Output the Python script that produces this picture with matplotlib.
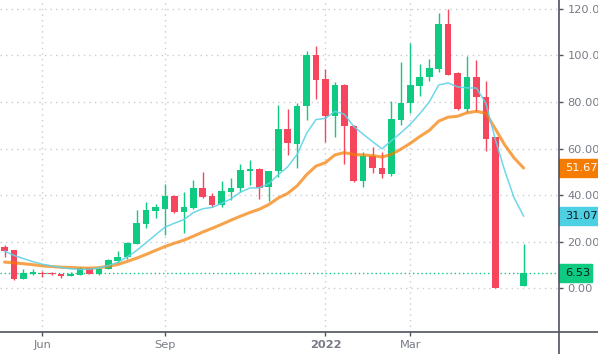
import matplotlib.pyplot as plt
from matplotlib.lines import Line2D
from matplotlib.patches import Rectangle
from matplotlib.transforms import blended_transform_factory
import numpy as np
import pandas as pd

# weekly candles, starting week of 10 May 2021
weeks = pd.date_range('2021-05-10', periods=56, freq='W-MON')

opens = [17.7, 16.5, 4.1, 6.3, 6.7, 6.5, 6.2, 5.4, 5.9, 8.7,
         6.4, 8.5, 11.9, 13.3, 19.1, 27.7, 33.4, 34.3, 39.7, 33.0,
         34.7, 43.2, 39.7, 35.9, 41.5, 42.9, 50.6, 51.2, 43.7, 50.2,
         68.6, 62.2, 78.2, 100.0, 89.7, 74.2, 87.5, 69.9, 46.3, 56.7,
         51.8, 49.2, 72.5, 79.4, 87.1, 90.7, 94.0, 113.4, 92.3, 77.2,
         90.9, 82.3, 64.9, 0.05, 0.05, 1.0]
highs = [18.6, 16.6, 8.3, 8.3, 7.3, 7.0, 6.4, 6.9, 9.2, 8.9,
         9.0, 12.8, 16.2, 19.9, 33.7, 37.3, 36.3, 44.9, 39.9, 41.6,
         46.6, 49.8, 40.9, 45.9, 47.5, 53.5, 55.2, 51.7, 50.5, 78.9,
         77.1, 79.4, 101.7, 104.0, 94.3, 88.5, 87.6, 70.3, 58.4, 60.7,
         58.6, 80.4, 97.4, 105.5, 96.2, 98.3, 118.4, 119.8, 92.9, 99.7,
         97.9, 89.0, 65.0, 0.05, 0.05, 19.1]
lows = [13.6, 3.6, 4.0, 5.6, 5.0, 5.6, 4.6, 5.3, 5.6, 6.0,
        5.7, 8.2, 11.0, 12.7, 19.0, 25.8, 30.4, 23.0, 32.3, 23.9,
        34.3, 38.8, 34.9, 35.1, 38.0, 41.6, 44.5, 38.6, 37.7, 47.8,
        57.4, 51.9, 72.2, 81.1, 62.7, 64.9, 53.5, 45.5, 43.5, 49.5,
        47.2, 48.4, 70.3, 75.4, 82.5, 89.0, 93.0, 91.4, 76.8, 75.6,
        76.3, 59.2, 0.0, 0.0, 0.0, 1.0]
closes = [16.1, 4.0, 6.7, 6.9, 6.0, 6.0, 5.3, 6.3, 8.7, 6.3,
          8.5, 12.2, 13.6, 19.6, 28.2, 33.7, 34.9, 39.7, 33.0, 34.9,
          43.2, 39.4, 35.9, 42.0, 43.2, 50.9, 51.4, 43.3, 50.5, 68.6,
          62.4, 78.5, 100.0, 89.4, 74.2, 87.5, 69.9, 46.3, 56.7, 51.5,
          49.2, 72.9, 79.4, 87.5, 90.9, 94.4, 113.4, 91.8, 77.2, 90.9,
          82.1, 64.3, 0.0, 0.0, 0.0, 6.53]

ma_fast = [16.0, 14.2, 12.8, 11.5, 10.4, 9.6, 9.0, 8.4, 8.2, 8.2,
           8.8, 9.8, 11.2, 13.5, 16.3, 19.6, 23.0, 26.3, 28.0, 29.5,
           32.5, 34.2, 34.8, 36.5, 38.5, 41.3, 43.1, 43.2, 45.0, 48.8,
           52.2, 57.5, 66.5, 72.5, 73.0, 76.0, 74.8, 69.5, 66.2, 63.0,
           59.9, 63.4, 66.8, 70.5, 75.0, 80.0, 87.3, 88.2, 86.5, 86.1,
           86.0, 79.5, 64.0, 50.5, 38.8, 31.07]
ma_slow = [11.3, 11.0, 10.6, 10.2, 9.7, 9.4, 9.1, 9.0, 8.8, 8.7,
           8.9, 9.5, 10.3, 11.6, 13.0, 14.6, 16.3, 18.0, 19.4, 20.7,
           22.4, 24.2, 25.8, 27.5, 29.3, 31.0, 32.6, 34.0, 36.0, 38.8,
           40.8, 44.0, 48.8, 52.5, 54.0, 57.3, 58.3, 57.5, 57.3, 57.0,
           56.4, 57.5, 59.8, 62.3, 65.2, 67.8, 71.8, 73.5, 73.9, 75.4,
           76.0, 75.2, 68.5, 61.6, 56.0, 51.67]

up_col = '#0ecb81'
down_col = '#f6465d'
fast_col = '#5fd3e6'
slow_col = '#f57c00'
text_col = '#787b86'
axis_col = '#50535e'

W, H = 598, 354
fig = plt.figure(figsize=(W / 100, H / 100), dpi=100)
ax = fig.add_axes([0, 22 / H, 559 / W, 332 / H])

idx = np.arange(len(weeks))
o = np.array(opens)
c = np.array(closes)
cols = [up_col if cc > oo else down_col for oo, cc in zip(o, c)]

ax.vlines(idx, lows, highs, colors=cols, lw=1, zorder=3)
bottoms = np.minimum(o, c)
heights = np.maximum(np.abs(c - o), 0.4)
ax.bar(idx, heights, bottom=bottoms, width=0.7, color=cols, zorder=4)

ax.plot(idx, ma_slow, color=slow_col, lw=2.2, alpha=0.7, zorder=5,
        solid_capstyle='round')
ax.plot(idx, ma_fast, color=fast_col, lw=1.1, alpha=0.9, zorder=5)

last = closes[-1]
ax.axhline(last, color=up_col, lw=1, linestyle=(0, (1, 2)), zorder=2)

ax.set_xlim(-0.48, 58.75)
ax.set_ylim(-18.7, 123.8)

# ticks at first weekly bar of the month
tick_names = ['Jun', 'Sep', '2022', 'Mar']
tick_months = [(2021, 6), (2021, 9), (2022, 1), (2022, 3)]
tick_pos = [int(np.argmax((weeks.year == y) & (weeks.month == m))) for y, m in tick_months]
ax.set_xticks(tick_pos)
ax.set_xticklabels(tick_names)
for lab in ax.get_xticklabels():
    if lab.get_text() == '2022':
        lab.set_fontweight('bold')
        lab.set_color('#50535e')

yt = np.arange(0, 121, 20)
ax.set_yticks(yt)
ax.set_yticklabels(['%.2f' % v for v in yt])
ax.yaxis.tick_right()
ax.tick_params(axis='y', length=3, width=1, color=axis_col, pad=3,
               labelsize=8.2, labelcolor=text_col)
ax.tick_params(axis='x', length=3, width=1, color=axis_col, pad=3,
               labelsize=8.2, labelcolor=text_col)

ax.grid(True, color='#c9ccd4', lw=1, linestyle=(0, (1, 3)), zorder=0)
for s in ax.spines.values():
    s.set_visible(False)

# price scale / time scale borders
fig.add_artist(Line2D([0, 1], [22 / H, 22 / H], color=axis_col, lw=1.2))
fig.add_artist(Line2D([559 / W, 559 / W], [0, 1], color=axis_col, lw=1.2))

# last value labels on the price scale
trans = blended_transform_factory(fig.transFigure, ax.transData)
box_h = 18 / 2.33
for val, col, tcol, right in [(ma_slow[-1], slow_col, 'white', 1.0),
                              (ma_fast[-1], '#4dd0e1', '#131722', 1.0),
                              (last, up_col, '#131722', 592 / W)]:
    ax.add_patch(Rectangle((559 / W, val - box_h / 2), right - 559 / W, box_h,
                           transform=trans, color=col, clip_on=False, zorder=10))
    ax.text(565 / W, val, '%.2f' % val, transform=trans, color=tcol,
            fontsize=8.2, va='center', ha='left', zorder=11, clip_on=False)

fig.savefig('out.png', dpi=100)
